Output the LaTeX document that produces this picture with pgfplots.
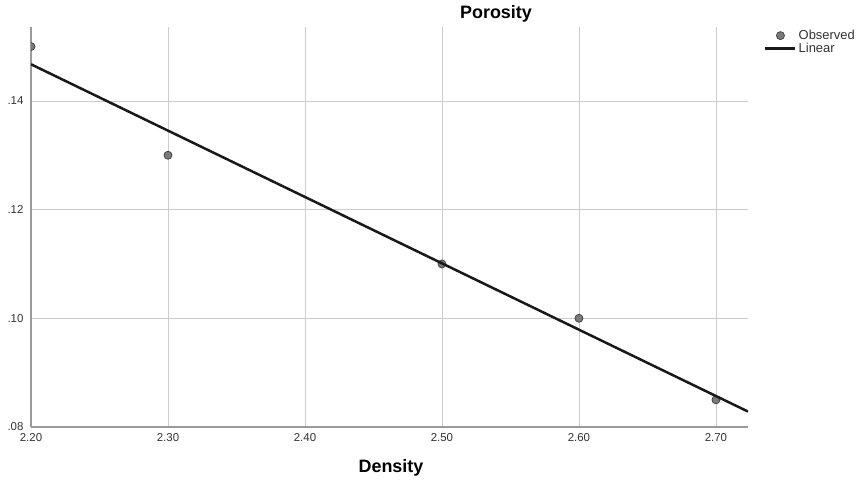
\documentclass[border=0pt]{standalone}
\usepackage{pgfplots}
\pgfplotsset{compat=1.18}
\usepackage{fontspec}
\setmainfont{Liberation Sans}
\definecolor{gridgray}{HTML}{CCCCCC}
\definecolor{axgray}{HTML}{9A9A9A}
\definecolor{ptfill}{HTML}{7A7A7A}
\definecolor{ptedge}{HTML}{454545}
\definecolor{ticktext}{HTML}{333333}
\pgfplotsset{
    obslegend/.style={legend image code/.code={\draw[mark repeat=2,mark phase=2,##1] plot coordinates {(0bp,0bp)(15bp,0bp)(30bp,0bp)};}},
    linlegend/.style={legend image code/.code={\draw[##1] (0bp,0bp) -- (30bp,0bp);}},
}
\begin{document}
\begin{tikzpicture}
\useasboundingbox (-31bp,-59bp) rectangle (836bp,427bp);
\begin{axis}[
    at={(0,0)}, anchor=south west,
    scale only axis,
    width=717bp, height=400bp,
    xmin=2.2, xmax=2.7234,
    ymin=0.08, ymax=0.1536,
    xtick={2.2,2.3,2.4,2.5,2.6,2.7},
    ytick={0.08,0.10,0.12,0.14},
    xticklabels={2.20,2.30,2.40,2.50,2.60,2.70},
    yticklabels={.08,.10,.12,.14},
    grid=major,
    grid style={gridgray, line width=0.8bp},
    axis x line*=bottom, axis y line*=left,
    axis line style={axgray, line width=1.2bp, -},
    major tick length=0pt,
    clip marker paths=true,
    tick label style={font=\fontsize{11.5}{13}\selectfont, text=ticktext},
    xticklabel style={yshift=-3bp},
    yticklabel style={xshift=-4bp},
    legend cell align=left,
    legend style={at={(axis description cs:1,1)}, anchor=north west,
        xshift=16bp, yshift=-1bp, draw=none, fill=none,
        font=\fontsize{13}{13}\selectfont, text=ticktext, row sep=-2bp,
        inner sep=0bp, /tikz/every even column/.append style={column sep=3bp}},
]
\addplot[only marks, mark=*, mark size=4bp,
    mark options={fill=ptfill, draw=ptedge, line width=0.8bp}, obslegend]
coordinates {
    (2.2,0.150)
    (2.3,0.130)
    (2.5,0.110)
    (2.6,0.100)
    (2.7,0.085)
};
\addlegendentry{Observed}
\addplot[black!90, line width=2.5bp, no marks, linlegend]
coordinates {
    (2.2,0.14674)
    (2.7234,0.08284)
};
\addlegendentry{Linear}
\end{axis}
\node[font=\bfseries\fontsize{18}{20}\selectfont] at (465bp,413bp) {Porosity};
\node[font=\bfseries\fontsize{18}{20}\selectfont] at (360bp,-41bp) {Density};
\end{tikzpicture}
\end{document}
